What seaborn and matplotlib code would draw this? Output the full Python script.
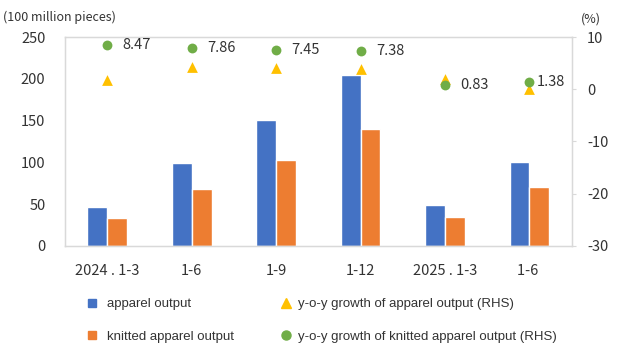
import numpy as np
import pandas as pd
import matplotlib
matplotlib.use("Agg")
import matplotlib.pyplot as plt
import seaborn as sns
from matplotlib.lines import Line2D

# data
periods = ["2024 . 1-3", "1-6", "1-9", "1-12", "2025 . 1-3", "1-6 "]
apparel = [47, 99, 151, 204, 49, 101]
knitted = [33, 68, 103, 140, 34, 70]
apparel_yoy = [1.7, 4.2, 4.1, 3.9, 1.9, 0.1]
knitted_yoy = [8.47, 7.86, 7.45, 7.38, 0.83, 1.38]

sns.set_style("white")
plt.rcParams["font.family"] = ["Noto Sans CJK SC", "DejaVu Sans"]
plt.rcParams["axes.unicode_minus"] = False

blue = "#4472C4"
orange = "#ED7D31"
yellow = "#FFC000"
green = "#70AD47"
grey = "#D9D9D9"
txt = "#333333"

df = pd.DataFrame({
    "period": periods * 2,
    "value": apparel + knitted,
    "series": ["apparel output"] * 6 + ["knitted apparel output"] * 6,
})

fig = plt.figure(figsize=(6.31, 3.6), dpi=100)
ax = fig.add_axes([0.103, 0.317, 0.803, 0.58])

sns.barplot(data=df, x="period", y="value", hue="series", palette=[blue, orange],
            width=0.47, saturation=1, ax=ax, legend=False)
ax.set_xlim(-0.5, 5.5)
ax.set_ylim(0, 250)
ax.set_yticks(range(0, 251, 50))
ax.set_xlabel("")
ax.set_ylabel("")
ax.tick_params(axis="both", length=0, labelsize=10.5, colors=txt)
ax.tick_params(axis="x", pad=13)
ax.tick_params(axis="y", pad=14)
for s in ax.spines.values():
    s.set_color(grey)
    s.set_linewidth(1)

ax2 = ax.twinx()
x = np.arange(len(periods))
sns.scatterplot(x=x, y=apparel_yoy, marker="^", color=yellow, s=60, linewidth=0, ax=ax2)
sns.scatterplot(x=x, y=knitted_yoy, marker="o", color=green, s=50, linewidth=0, ax=ax2)
ax2.set_ylim(-30, 10)
ax2.set_yticks(range(-30, 11, 10))
ax2.tick_params(axis="y", length=3, color=grey, labelsize=10.5, colors=txt, pad=8)
for s in ax2.spines.values():
    s.set_color(grey)

for i, v in enumerate(knitted_yoy):
    dx = 0.18 if i < 5 else 0.09
    ax2.text(i + dx, v, f"{v:.2f}", va="center", ha="left", fontsize=10.5, color=txt)

fig.text(0.005, 0.952, "(100 million pieces)", fontsize=9, color=txt, va="center")
fig.text(0.937, 0.948, "(%)", fontsize=9, color=txt, va="center", ha="center")

leg_font = {"family": ["Liberation Sans"], "size": 9.5}
h1 = [Line2D([], [], marker="s", color=blue, linestyle="", markersize=5.5),
      Line2D([], [], marker="s", color=orange, linestyle="", markersize=5.5)]
h2 = [Line2D([], [], marker="^", color=yellow, linestyle="", markersize=7),
      Line2D([], [], marker="o", color=green, linestyle="", markersize=6.5)]
l1 = ["apparel output", "knitted apparel output"]
l2 = ["y-o-y growth of apparel output (RHS)",
      "y-o-y growth of knitted apparel output (RHS)"]
fig.legend(h1, l1, loc="upper left", bbox_to_anchor=(0.1353, 0.172),
           frameon=False, prop=leg_font, labelcolor=txt, borderpad=0,
           borderaxespad=0, handlelength=1, handletextpad=0.64, labelspacing=1.52)
fig.legend(h2, l2, loc="upper left", bbox_to_anchor=(0.4428, 0.172),
           frameon=False, prop=leg_font, labelcolor=txt, borderpad=0,
           borderaxespad=0, handlelength=1, handletextpad=0.41, labelspacing=1.52)

fig.savefig("out.png", dpi=100)
